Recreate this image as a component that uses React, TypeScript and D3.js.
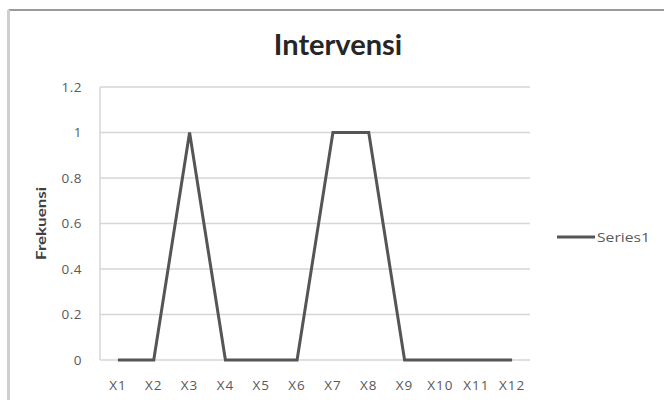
import React from "react";
import * as d3 from "d3";

const categories = ["X1", "X2", "X3", "X4", "X5", "X6", "X7", "X8", "X9", "X10", "X11", "X12"];
const series1 = [0, 0, 1, 0, 0, 0, 1, 1, 0, 0, 0, 0];
const yTicks = [0, 0.2, 0.4, 0.6, 0.8, 1, 1.2];
const title = "Intervensi";
const yTitle = "Frekuensi";
const seriesName = "Series1";

const W = 664;
const H = 400;
const plot = { left: 100, right: 530, top: 87, bottom: 360 };
const font = "Lato, 'Open Sans', 'DejaVu Sans', sans-serif";
const tickFont = "'Open Sans', Lato, sans-serif";

export default function App() {
  const x = d3
    .scaleBand<string>()
    .domain(categories)
    .range([plot.left, plot.right]);
  const y = d3.scaleLinear().domain([0, 1.2]).range([plot.bottom, plot.top]);

  const line = d3
    .line<number>()
    .x((_, i) => (x(categories[i]) as number) + x.bandwidth() / 2)
    .y((d) => y(d));

  const fmt = (v: number) => (v === 0 ? "0" : d3.format("~g")(v));

  return (
    <svg
      width={W}
      height={H}
      style={{ position: "absolute", left: 0, top: 0, background: "#fff" }}
    >
      {/* chart frame */}
      <line x1={8.5} y1={10} x2={W} y2={10} stroke="#7a7a7a" strokeWidth={1.5} />
      <line x1={8.5} y1={10} x2={8.5} y2={H} stroke="#cfcfcf" strokeWidth={3} />

      <text
        x={338}
        y={55}
        textAnchor="middle"
        fontFamily={font}
        fontWeight="bold"
        fontSize={29}
        fill="#262626"
      >
        {title}
      </text>

      {/* gridlines */}
      {yTicks.map((t) => (
        <line
          key={t}
          x1={plot.left}
          x2={plot.right}
          y1={y(t)}
          y2={y(t)}
          stroke="#d6d6d6"
          strokeWidth={1.5}
        />
      ))}
      <line
        x1={plot.left}
        x2={plot.left}
        y1={plot.top}
        y2={plot.bottom}
        stroke="#d6d6d6"
        strokeWidth={1.5}
      />

      {/* y tick labels */}
      {yTicks.map((t) => (
        <text
          key={"l" + t}
          x={82}
          y={y(t)}
          dy="0.35em"
          textAnchor="end"
          fontFamily={tickFont}
          fontSize={13.5}
          letterSpacing={0.5}
          fill="#595959"
        >
          {fmt(t)}
        </text>
      ))}

      {/* x tick labels */}
      {categories.map((c) => (
        <text
          key={c}
          x={(x(c) as number) + x.bandwidth() / 2}
          y={385}
          dy="0.35em"
          textAnchor="middle"
          fontFamily={tickFont}
          fontSize={13.5}
          letterSpacing={1}
          fill="#595959"
        >
          {c}
        </text>
      ))}

      <text
        transform={`translate(41,${(plot.top + plot.bottom) / 2}) rotate(-90)`}
        textAnchor="middle"
        dy="0.35em"
        fontFamily={font}
        fontWeight="bold"
        fontSize={13}
        textLength={73}
        lengthAdjust="spacingAndGlyphs"
        fill="#404040"
      >
        {yTitle}
      </text>

      <path
        d={line(series1) || ""}
        fill="none"
        stroke="#555555"
        strokeWidth={3}
        strokeLinejoin="miter"
      />

      {/* legend */}
      <line x1={557} x2={595} y1={237} y2={237} stroke="#555555" strokeWidth={3} />
      <text
        x={597}
        y={237}
        dy="0.35em"
        fontFamily={tickFont}
        fontSize={13}
        textLength={53}
        lengthAdjust="spacingAndGlyphs"
        fill="#595959"
      >
        {seriesName}
      </text>
    </svg>
  );
}
